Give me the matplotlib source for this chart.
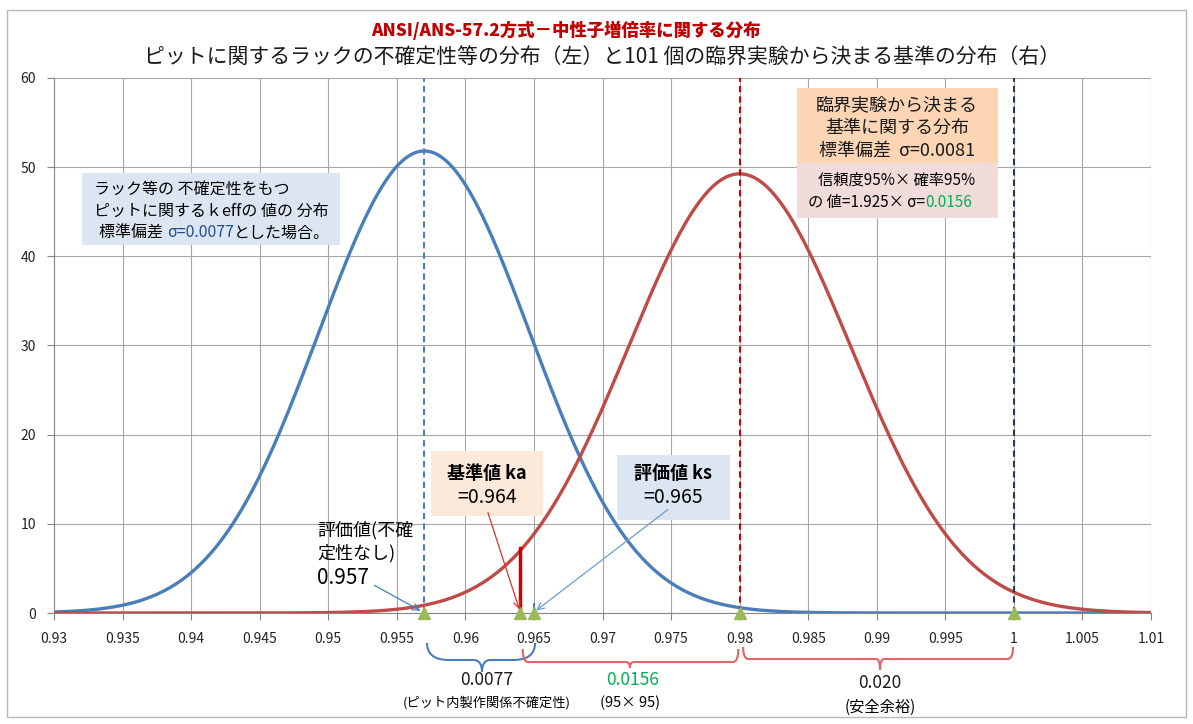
import numpy as np
import matplotlib
matplotlib.use("Agg")
import matplotlib.pyplot as plt
from matplotlib.path import Path
from matplotlib.patches import PathPatch, Rectangle

plt.rcParams['font.family'] = ['Noto Sans CJK JP', 'DejaVu Sans']

# distributions (left: rack uncertainty, right: criterion from 101 critical experiments)
dist_mean = [0.957, 0.980]
dist_sigma = [0.0077, 0.0081]
dist_color = ['#4a7ebb', '#be4b48']

# reference lines / markers
dashed_x = [0.957, 0.980, 1.000]
dashed_color = ['#4a7ebb', '#cc0000', '#1f3864']
marker_x = [0.957, 0.964, 0.965, 0.980, 1.000]
ka_value = 0.964
ka_bar_height = 7.3
ks_value = 0.965

xticks = [0.93, 0.935, 0.94, 0.945, 0.95, 0.955, 0.96, 0.965, 0.97, 0.975,
          0.98, 0.985, 0.99, 0.995, 1.0, 1.005, 1.01]
xtick_labels = ['0.93', '0.935', '0.94', '0.945', '0.95', '0.955', '0.96', '0.965', '0.97',
                '0.975', '0.98', '0.985', '0.99', '0.995', '1', '1.005', '1.01']
yticks = [0, 10, 20, 30, 40, 50, 60]

fig = plt.figure(figsize=(11.93, 7.24), dpi=100)
ax = fig.add_axes([0.0453, 0.1533, 0.9195, 0.739])

# outer chart frame
fig.patches.append(Rectangle((0.006, 0.01), 0.988, 0.976, transform=fig.transFigure,
                             fill=False, edgecolor='#b8b8b8', lw=1))

x = np.linspace(0.93, 1.01, 800)
for m, s, c in zip(dist_mean, dist_sigma, dist_color):
    pdf = np.exp(-0.5 * ((x - m) / s) ** 2) / (s * np.sqrt(2 * np.pi))
    ax.plot(x, pdf, color=c, lw=2.4, zorder=3, solid_capstyle='butt')

for xv, c in zip(dashed_x, dashed_color):
    ax.plot([xv, xv], [0, 60], color=c, lw=1.5, ls=(0, (3, 2)), zorder=4)

ax.plot([ka_value, ka_value], [0, ka_bar_height], color='#cc0000', lw=2.5, zorder=5)
ax.plot([ks_value, ks_value], [0, 1.0], color='#4a7ebb', lw=1.5, zorder=5)
ax.plot(marker_x, [0] * len(marker_x), ls='none', marker='^', color='#9bbb59',
        markersize=9, clip_on=False, zorder=6)

ax.set_xlim(0.93, 1.01)
ax.set_ylim(0, 60)
ax.set_xticks(xticks)
ax.set_xticklabels(xtick_labels)
ax.set_yticks(yticks)
ax.grid(True, color='#a6a6a6', lw=0.8)
ax.set_axisbelow(True)
for sp in ['top', 'right']:
    ax.spines[sp].set_visible(False)
for sp in ['left', 'bottom']:
    ax.spines[sp].set_color('#868686')
ax.tick_params(axis='both', direction='out', length=5, color='#868686',
               labelsize=10, labelcolor='#222222')
ax.tick_params(axis='x', pad=9)
ax.tick_params(axis='y', pad=8)

# titles
fig.text(0.474, 0.958, 'ANSI/ANS-57.2方式－中性子増倍率に関する分布', ha='center', va='center',
         fontsize=12.5, fontweight='black', color='#c00000')
fig.text(0.505, 0.92, 'ピットに関するラックの不確定性等の分布（左）と101 個の臨界実験から決まる基準の分布（右）',
         ha='center', va='center', fontsize=15, color='#1a1a1a')

# left info box
ax.add_patch(Rectangle((0.93204, 41.27), 0.01882, 8.08, facecolor='#dce6f2', edgecolor='none', zorder=4))
ax.text(0.93292, 47.55, 'ラック等の 不確定性をもつ', fontsize=11.5, va='center', zorder=5)
ax.text(0.93292, 45.08, 'ピットに関するｋeffの 値の 分布', fontsize=11.5, va='center', zorder=5)
t1 = ax.text(0.93330, 42.62, '標準偏差 ', fontsize=11.5, va='center', zorder=5)
t2 = ax.annotate('σ=0.0077', xy=(1, 0), xycoords=t1, va='bottom', ha='left',
                 fontsize=11.5, color='#1f4e8c', zorder=5)
ax.annotate('とした場合。', xy=(1, 0), xycoords=t2, va='bottom', ha='left', fontsize=11.5, zorder=5)

# right info boxes
ax.add_patch(Rectangle((0.98418, 50.47), 0.01466, 8.41, facecolor='#fcd5b5', edgecolor='none', zorder=4))
ax.add_patch(Rectangle((0.98418, 44.30), 0.01466, 6.17, facecolor='#f2dcdb', edgecolor='none', zorder=4))
for yy, s in zip([56.97, 54.39, 51.81], ['臨界実験から決まる', '基準に関する分布', '標準偏差  σ=0.0081']):
    ax.text(0.99148, yy, s, fontsize=13, ha='center', va='center', color='#1a1a1a', zorder=5)
ax.text(0.99148, 48.56, '信頼度95%× 確率95%', fontsize=11, ha='center', va='center', zorder=5)
t3 = ax.text(0.98499, 45.98, 'の 値=1.925× σ=', fontsize=11, ha='left', va='center', zorder=5)
ax.annotate('0.0156', xy=(1, 0), xycoords=t3, va='bottom', ha='left', fontsize=11,
            color='#00b050', zorder=5)

# ka box
ax.add_patch(Rectangle((0.95749, 10.88), 0.00817, 7.29, facecolor='#fde9d9', edgecolor='none', zorder=4))
ax.text(0.96158, 15.70, '基準値 ka', fontsize=13, fontweight='bold', ha='center', va='center', zorder=5)
ax.text(0.96158, 12.90, '=0.964', fontsize=14, ha='center', va='center', zorder=5)
ax.annotate('', xy=(ka_value, 0.1), xytext=(0.96158, 11.55),
            arrowprops=dict(arrowstyle='->', color='#e03030', lw=0.9, mutation_scale=12), zorder=6)

# ks box
ax.add_patch(Rectangle((0.97106, 10.43), 0.00824, 7.29, facecolor='#dce6f2', edgecolor='none', zorder=4))
ax.text(0.97514, 15.70, '評価値 ks', fontsize=13, fontweight='bold', ha='center', va='center', zorder=5)
ax.text(0.97514, 12.90, '=0.965', fontsize=14, ha='center', va='center', zorder=5)
ax.annotate('', xy=(ks_value, 0.1), xytext=(0.97492, 11.78),
            arrowprops=dict(arrowstyle='->', color='#6f9bd1', lw=0.9, mutation_scale=12), zorder=6)

# evaluation value without uncertainty
ax.text(0.94918, 9.31, '評価値(不確', fontsize=13, va='center', zorder=5)
ax.text(0.94918, 6.73, '定性なし)', fontsize=13, va='center', zorder=5)
ax.text(0.94918, 3.93, '0.957', fontsize=15, va='center', zorder=5)
ax.annotate('', xy=(0.95691, 0.1), xytext=(0.95319, 3.25),
            arrowprops=dict(arrowstyle='->', color='#4a7ebb', lw=0.9, mutation_scale=12), zorder=6)


def brace(x0, x1, xc, ytop, ymid, ytip, rout, rin, color):
    verts = [(x0, ytop), (x0, ymid), (x0 + rout, ymid),
             (xc - rin, ymid), (xc, ymid), (xc, ytip),
             (xc, ymid), (xc + rin, ymid),
             (x1 - rout, ymid), (x1, ymid), (x1, ytop)]
    codes = [Path.MOVETO, Path.CURVE3, Path.CURVE3,
             Path.LINETO, Path.CURVE3, Path.CURVE3,
             Path.CURVE3, Path.CURVE3,
             Path.LINETO, Path.CURVE3, Path.CURVE3]
    ax.add_patch(PathPatch(Path(verts, codes), fill=False, edgecolor=color, lw=1.5, clip_on=False))


brace(0.95720, 0.96508, 0.96121, -3.36, -5.27, -6.62, 0.0016, 0.0006, '#4a7ebb')
brace(0.96418, 0.97990, 0.97200, -4.04, -5.50, -6.17, 0.0004, 0.0003, '#e06666')
brace(0.98025, 0.99994, 0.99024, -3.81, -5.16, -6.39, 0.0004, 0.0003, '#e06666')

ax.text(0.96158, -7.51, '0.0077', fontsize=12.5, ha='center', va='center', color='#1a1a1a')
ax.text(0.96158, -10.09, '(ピット内製作関係不確定性)', fontsize=9.5, ha='center', va='center')
ax.text(0.97222, -7.51, '0.0156', fontsize=12.5, ha='center', va='center', color='#00b050')
ax.text(0.97201, -10.09, '(95× 95)', fontsize=10.5, ha='center', va='center')
ax.text(0.99024, -7.85, '0.020', fontsize=12.5, ha='center', va='center', color='#1a1a1a')
ax.text(0.99024, -10.54, '(安全余裕)', fontsize=11, ha='center', va='center')

fig.savefig('out.png', dpi=100)
